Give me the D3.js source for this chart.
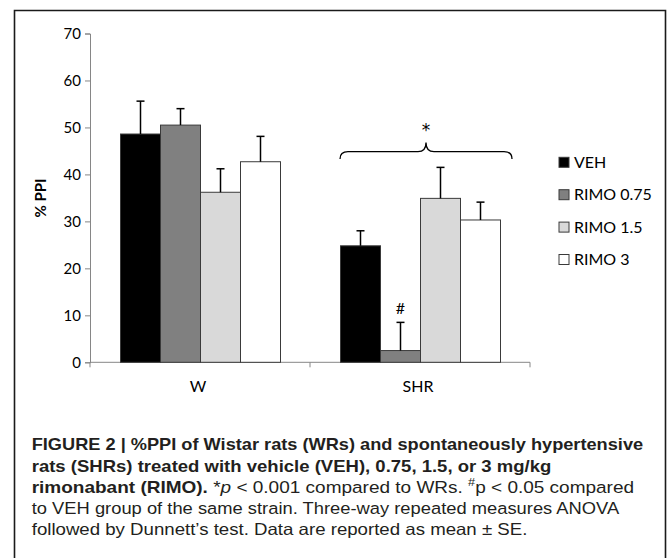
<!DOCTYPE html>
<html>
<head>
<meta charset="utf-8">
<script src="https://cdn.jsdelivr.net/npm/d3@7"></script>
<style>
  html, body { margin: 0; padding: 0; background: #fff; }
  svg { display: block; }
</style>
</head>
<body>
<svg id="chart" width="669" height="558"></svg>
<script>
// ---- data ----
const categories = ["W", "SHR"];
const seriesNames = ["VEH", "RIMO 0.75", "RIMO 1.5", "RIMO 3"];
const seriesColors = ["#000000", "#808080", "#d9d9d9", "#ffffff"];
const valuesW = [48.6, 50.5, 36.2, 42.7];
const errorsW = [7.0, 3.5, 5.0, 5.4];
const valuesSHR = [24.8, 2.5, 34.9, 30.3];
const errorsSHR = [3.2, 6.0, 6.6, 3.8];
const yTicks = [0, 10, 20, 30, 40, 50, 60, 70];
const yLabel = "% PPI";
const captionLines = [
  [{t: "FIGURE 2 | %PPI of Wistar rats (WRs) and spontaneously hypertensive", b: true}],
  [{t: "rats (SHRs) treated with vehicle (VEH), 0.75, 1.5, or 3 mg/kg", b: true}],
  [{t: "rimonabant (RIMO).", b: true}, {t: " *"}, {t: "p", i: true}, {t: " < 0.001 compared to WRs. "}, {t: "#", sup: true}, {t: "p < 0.05 compared"}],
  [{t: "to VEH group of the same strain. Three-way repeated measures ANOVA"}],
  [{t: "followed by Dunnett\u2019s test. Data are reported as mean \u00B1 SE."}]
];
const captionWidths = [612, 520, 603, 588, 496];

const table = [
  {cat: "W", vals: valuesW, errs: errorsW},
  {cat: "SHR", vals: valuesSHR, errs: errorsSHR}
];

// ---- layout ----
const svg = d3.select("#chart");
const chartFont = "Lato, 'Open Sans', sans-serif";

// frame (open at bottom)
svg.append("path")
  .attr("d", "M14.5,570 L14.5,10.5 L665.5,10.5 L665.5,570")
  .attr("fill", "none").attr("stroke", "#1a1a1a").attr("stroke-width", 1.6);

const x = d3.scaleBand().domain(categories).range([90, 530]).padding(0);
const xs = d3.scaleBand().domain(seriesNames).range([30.5, 190.5]).padding(0);
const y = d3.scaleLinear().domain([0, 70]).range([362.3, 33.5]);

const axisColor = "#868686";

// y axis
const yAxis = svg.append("g").attr("transform", "translate(90,0)")
  .call(d3.axisLeft(y).tickValues(yTicks).tickSize(5).tickPadding(4).tickFormat(d3.format("d")));
yAxis.select(".domain").attr("stroke", axisColor).attr("stroke-width", 1);
yAxis.selectAll(".tick line").attr("stroke", axisColor);
yAxis.selectAll(".tick text").attr("font-family", chartFont).attr("font-size", 15).attr("fill", "#000");

// x axis
const xAxisG = svg.append("g").attr("transform", `translate(0,${y(0)})`);
xAxisG.append("line").attr("x1", 90).attr("x2", 530).attr("y1", 0).attr("y2", 0)
  .attr("stroke", axisColor).attr("stroke-width", 1);
const xTickPos = [x.range()[0]].concat(categories.map(c => x(c) + x.bandwidth()));
xAxisG.selectAll("line.xt").data(xTickPos).enter().append("line")
  .attr("class", "xt").attr("x1", d => d).attr("x2", d => d).attr("y1", 0).attr("y2", 5)
  .attr("stroke", axisColor);
xAxisG.selectAll("text.cat").data(categories).enter().append("text")
  .attr("class", "cat")
  .attr("x", d => x(d) + x.bandwidth() / 2 - 2)
  .attr("y", 30)
  .attr("text-anchor", "middle")
  .attr("font-family", chartFont).attr("font-size", 16).attr("fill", "#000")
  .text(d => d);

// y label
svg.append("text")
  .attr("transform", "translate(46,198) rotate(-90)")
  .attr("text-anchor", "middle")
  .attr("font-family", chartFont).attr("font-weight", "bold").attr("font-size", 15)
  .attr("fill", "#000")
  .text(yLabel);

// bars
const groups = svg.selectAll("g.grp").data(table).enter().append("g")
  .attr("class", "grp").attr("transform", d => `translate(${x(d.cat)},0)`);

groups.selectAll("rect").data(d => d.vals.map((v, i) => ({v, e: d.errs[i], s: seriesNames[i], i})))
  .enter().append("rect")
  .attr("x", d => xs(d.s))
  .attr("width", xs.bandwidth())
  .attr("y", d => y(d.v))
  .attr("height", d => y(0) - y(d.v))
  .attr("fill", d => seriesColors[d.i])
  .attr("stroke", "#3a3a3a").attr("stroke-width", 1);

// error bars
const eb = groups.selectAll("g.eb").data(d => d.vals.map((v, i) => ({v, e: d.errs[i], s: seriesNames[i], i})))
  .enter().append("g").attr("class", "eb");
eb.append("line")
  .attr("x1", d => xs(d.s) + xs.bandwidth() / 2).attr("x2", d => xs(d.s) + xs.bandwidth() / 2)
  .attr("y1", d => y(d.v)).attr("y2", d => y(d.v + d.e))
  .attr("stroke", "#000").attr("stroke-width", 1.5);
eb.append("line")
  .attr("x1", d => xs(d.s) + xs.bandwidth() / 2 - 4).attr("x2", d => xs(d.s) + xs.bandwidth() / 2 + 4)
  .attr("y1", d => y(d.v + d.e)).attr("y2", d => y(d.v + d.e))
  .attr("stroke", "#000").attr("stroke-width", 1.5);

// "#" annotation over SHR RIMO 0.75
const hashX = x("SHR") + xs("RIMO 0.75") + xs.bandwidth() / 2;
svg.append("text")
  .attr("x", hashX).attr("y", y(valuesSHR[1] + errorsSHR[1]) - 8)
  .attr("text-anchor", "middle")
  .attr("font-family", chartFont).attr("font-size", 16).attr("fill", "#000")
  .text("#");

// brace over SHR group
const bL = x("SHR") + xs.range()[0] - 0.5;
const bR = x("SHR") + xs.range()[1] + 11.5;
const bC = (bL + bR) / 2;
const yEnd = y(43.3), yMid = y(44.85), yPeak = y(46.8);
const r = 8;
svg.append("path")
  .attr("d", `M${bL},${yEnd} Q${bL},${yMid} ${bL + r},${yMid} L${bC - r},${yMid} Q${bC},${yMid} ${bC},${yPeak} Q${bC},${yMid} ${bC + r},${yMid} L${bR - r},${yMid} Q${bR},${yMid} ${bR},${yEnd}`)
  .attr("fill", "none").attr("stroke", "#000").attr("stroke-width", 1.3);
svg.append("text")
  .attr("x", bC).attr("y", y(48.1))
  .attr("text-anchor", "middle")
  .attr("font-family", "'DejaVu Sans', sans-serif").attr("font-size", 17).attr("fill", "#000")
  .text("*");

// legend
const lg = svg.selectAll("g.lg").data(seriesNames).enter().append("g")
  .attr("class", "lg")
  .attr("transform", (d, i) => `translate(559,${162.3 + i * 32.4})`);
lg.append("rect").attr("x", 0).attr("y", -5).attr("width", 10).attr("height", 10)
  .attr("fill", (d, i) => seriesColors[i]).attr("stroke", "#3a3a3a").attr("stroke-width", 1);
lg.append("text").attr("x", 15).attr("y", 0).attr("dy", "0.36em")
  .attr("font-family", chartFont).attr("font-size", 16).attr("fill", "#000")
  .text(d => d);

// caption
const baselines = [450, 471.5, 492.7, 514, 535.3];
captionLines.forEach((segs, li) => {
  const g = svg.append("g");
  const t = g.append("text").attr("x", 0).attr("y", 0)
    .attr("font-family", "'Liberation Sans Narrow', 'Liberation Sans', Arial, sans-serif")
    .attr("font-size", 16.5).attr("fill", "#231f20");
  segs.forEach(s => {
    const ts = t.append("tspan").text(s.t);
    if (s.b) ts.attr("font-weight", "bold");
    if (s.i) ts.attr("font-style", "italic");
    if (s.sup) ts.attr("font-size", 11).attr("baseline-shift", "super");
  });
  const w = t.node().getComputedTextLength();
  const sx = captionWidths[li] / w;
  g.attr("transform", `translate(31.7,${baselines[li]}) scale(${sx},1)`);
});
</script>
</body>
</html>
